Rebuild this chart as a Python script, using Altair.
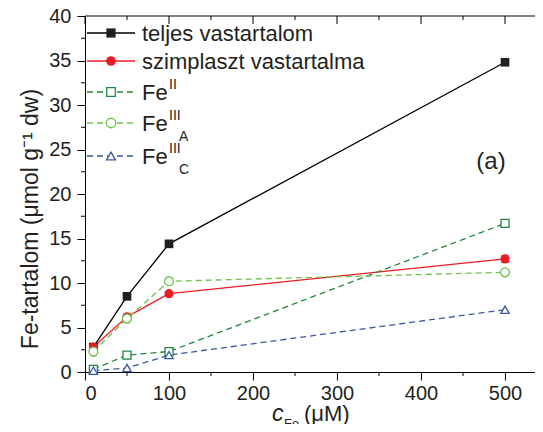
import altair as alt
import pandas as pd

# ---- data ----
x_vals = [10, 50, 100, 500]
teljes = [2.8, 8.5, 14.4, 34.8]
teljes_err = [0.3, 0.3, 0.3, 0.3]
szimplaszt = [2.8, 6.2, 8.8, 12.7]
szimplaszt_err = [0.3, 0.3, 0.2, 0.4]
fe2 = [0.3, 1.9, 2.3, 16.7]
fe3a = [2.3, 6.0, 10.2, 11.2]
fe3c = [0.15, 0.45, 1.9, 7.0]

x_major = [0, 100, 200, 300, 400, 500]
x_minor = [50, 150, 250, 350, 450]
y_major = [0, 5, 10, 15, 20, 25, 30, 35, 40]
y_minor = [2.5, 7.5, 12.5, 17.5, 22.5, 27.5, 32.5, 37.5]

legend_names = ["teljes vastartalom", "szimplaszt vastartalma", "Fe", "Fe", "Fe"]
legend_sup = ["", "", "II", "III", "III"]
legend_sub = ["", "", "", "A", "C"]

W, H = 450, 356
X_MAX = 535.7
FONT = "Liberation Sans"
TXT = "#231f20"

xs = alt.Scale(domain=[0, X_MAX], nice=False, zero=False)
ys = alt.Scale(domain=[0, 40], nice=False, zero=False)
xaxis = alt.Axis(values=x_major, tickSize=8, labelFontSize=20, labelPadding=3,
                 title=None, grid=False, format="d")
yaxis = alt.Axis(values=y_major, tickSize=8, labelFontSize=20, labelPadding=6,
                 title=None, grid=False, format="d")
X = alt.X("x:Q", scale=xs, axis=xaxis)
Y = alt.Y("y:Q", scale=ys, axis=yaxis)

series = [
    (teljes, "#000000", "#231f20", "square", True, None, 75),
    (szimplaszt, "#ed1c24", "#ed1c24", "circle", True, None, 85),
    (fe2, "#1f8a3e", "#1f8a3e", "square", False, [6, 4], 64),
    (fe3a, "#6cc24a", "#6cc24a", "circle", False, [6, 4], 80),
    (fe3c, "#3a57a7", "#3a57a7", "triangle-up", False, [6, 4], 70),
]

one = pd.DataFrame({"a": [0]})
layers = []

# top frame line
layers.append(alt.Chart(one).mark_rule(color="black", strokeWidth=1).encode(
    x=alt.value(0), x2=alt.value(W), y=alt.value(0)))

# lines
for vals, lc, mc, shape, filled, dash, size in series:
    df = pd.DataFrame({"x": x_vals, "y": vals})
    kw = dict(color=lc, strokeWidth=1.3)
    if dash:
        kw["strokeDash"] = dash
    layers.append(alt.Chart(df).mark_line(**kw).encode(x=X, y=Y))

# error bars
for vals, errs, col in [(teljes, teljes_err, "#000000"), (szimplaszt, szimplaszt_err, "#ed1c24")]:
    df = pd.DataFrame({"x": x_vals, "y": vals,
                       "lo": [v - e for v, e in zip(vals, errs)],
                       "hi": [v + e for v, e in zip(vals, errs)]})
    layers.append(alt.Chart(df).mark_rule(color=col, strokeWidth=1).encode(
        x=X, y=alt.Y("lo:Q", scale=ys, axis=yaxis), y2="hi:Q"))
    for key in ["lo", "hi"]:
        layers.append(alt.Chart(df).mark_tick(color=col, orient="horizontal", size=8, thickness=1).encode(
            x=X, y=alt.Y(f"{key}:Q", scale=ys, axis=yaxis)))

# points
for vals, lc, mc, shape, filled, dash, size in series:
    df = pd.DataFrame({"x": x_vals, "y": vals})
    if filled:
        pt = alt.Chart(df).mark_point(shape=shape, filled=True, color=mc, size=size, opacity=1)
    else:
        pt = alt.Chart(df).mark_point(shape=shape, filled=False, stroke=mc, fill="white",
                                      fillOpacity=1, strokeWidth=1.3, size=size, opacity=1)
    layers.append(pt.encode(x=X, y=Y))

# minor / mirrored ticks
dfxm = pd.DataFrame({"x": x_minor})
dfxM = pd.DataFrame({"x": x_major})
dfym = pd.DataFrame({"y": y_minor})
layers.append(alt.Chart(dfxm).mark_rule(color="black").encode(x=X, y=alt.value(H), y2=alt.value(H + 4)))
layers.append(alt.Chart(dfxm).mark_rule(color="black").encode(x=X, y=alt.value(0), y2=alt.value(4)))
layers.append(alt.Chart(dfxM).mark_rule(color="black").encode(x=X, y=alt.value(0), y2=alt.value(8)))
layers.append(alt.Chart(dfym).mark_rule(color="black").encode(y=Y, x=alt.value(-4), x2=alt.value(0)))

# legend
rows = [17, 45, 76, 107, 140]
for i, (vals, lc, mc, shape, filled, dash, size) in enumerate(series):
    r = rows[i]
    kw = dict(color=lc, strokeWidth=1.3)
    if dash:
        kw["strokeDash"] = dash
    layers.append(alt.Chart(one).mark_rule(**kw).encode(x=alt.value(2), x2=alt.value(50), y=alt.value(r)))
    if filled:
        pt = alt.Chart(one).mark_point(shape=shape, filled=True, color=mc, size=size + 10, opacity=1)
    else:
        pt = alt.Chart(one).mark_point(shape=shape, filled=False, stroke=mc, fill="white",
                                       fillOpacity=1, strokeWidth=1.3, size=size + 10, opacity=1)
    layers.append(pt.encode(x=alt.value(26), y=alt.value(r)))
    layers.append(alt.Chart(one).mark_text(text=legend_names[i], font=FONT, fontSize=22, color=TXT,
                                           align="left", baseline="alphabetic").encode(
        x=alt.value(57), y=alt.value(r + 8)))
    if legend_sup[i]:
        layers.append(alt.Chart(one).mark_text(text=legend_sup[i], font=FONT, fontSize=14, color=TXT,
                                               align="left", baseline="alphabetic").encode(
            x=alt.value(84), y=alt.value(r - 3)))
    if legend_sub[i]:
        layers.append(alt.Chart(one).mark_text(text=legend_sub[i], font=FONT, fontSize=14, color=TXT,
                                               align="left", baseline="alphabetic").encode(
            x=alt.value(94), y=alt.value(r + 18)))

# (a) label
layers.append(alt.Chart(one).mark_text(text="(a)", font=FONT, fontSize=24, color=TXT,
                                       align="center", baseline="middle").encode(
    x=alt.value(406), y=alt.value(146)))

# axis titles
layers.append(alt.Chart(one).mark_text(text="Fe-tartalom (μmol g⁻¹ dw)", font=FONT, fontSize=23, color=TXT,
                                       align="center", baseline="middle", angle=270).encode(
    x=alt.value(-54), y=alt.value(203)))
layers.append(alt.Chart(one).mark_text(text="c", font=FONT, fontSize=23, fontStyle="italic", color=TXT,
                                       align="left", baseline="alphabetic").encode(
    x=alt.value(187), y=alt.value(405)))
layers.append(alt.Chart(one).mark_text(text="Fe", font=FONT, fontSize=13, color=TXT,
                                       align="left", baseline="alphabetic").encode(
    x=alt.value(199), y=alt.value(412)))
layers.append(alt.Chart(one).mark_text(text="(μM)", font=FONT, fontSize=22, color=TXT,
                                       align="left", baseline="alphabetic").encode(
    x=alt.value(219), y=alt.value(405)))

chart = alt.layer(*layers).properties(
    width=W, height=H,
    autosize=alt.AutoSizeParams(type="none"),
    padding={"left": 77, "top": 8, "right": 0, "bottom": 52},
).configure_view(stroke="transparent").configure_axis(
    domainColor="black", tickColor="black", labelColor=TXT, labelFont=FONT,
    domainWidth=1, tickWidth=1,
)

chart.save("out.html", embed_options={"renderer": "svg", "actions": False})
